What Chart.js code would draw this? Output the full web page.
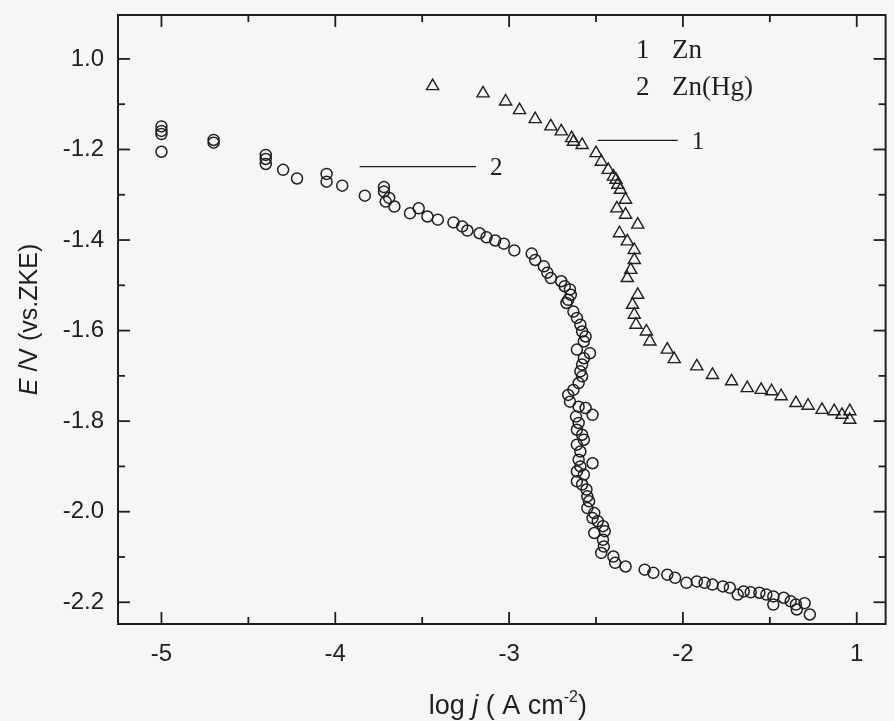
<!DOCTYPE html>
<html>
<head>
<meta charset="utf-8">
<script src="https://cdn.jsdelivr.net/npm/chart.js@4/dist/chart.umd.min.js"></script>
<style>
  html, body { margin: 0; padding: 0; background: #f5f6f6; }
  #wrap { width: 894px; height: 721px; position: relative; }
</style>
</head>
<body>
<div id="wrap"><canvas id="c"></canvas></div>
<script>
// Polarisation curve 1: Zn (triangles) — log j vs E
const znLogJ = [-3.44,-3.15,-3.02,-2.94,-2.85,-2.76,-2.70,-2.64,-2.63,-2.58,-2.50,-2.47,-2.43,-2.40,-2.385,-2.375,-2.36,-2.33,-2.38,-2.33,-2.26,-2.365,-2.32,-2.28,-2.28,-2.30,-2.32,-2.26,-2.29,-2.28,-2.27,-2.21,-2.19,-2.09,-2.05,-1.92,-1.83,-1.72,-1.63,-1.55,-1.49,-1.435,-1.35,-1.28,-1.20,-1.13,-1.085,-1.04,-1.04];
const znE    = [-1.060,-1.076,-1.094,-1.113,-1.133,-1.149,-1.160,-1.175,-1.183,-1.190,-1.208,-1.227,-1.245,-1.260,-1.267,-1.278,-1.289,-1.311,-1.330,-1.344,-1.366,-1.385,-1.403,-1.422,-1.444,-1.466,-1.484,-1.521,-1.543,-1.565,-1.587,-1.602,-1.624,-1.642,-1.663,-1.679,-1.698,-1.712,-1.727,-1.731,-1.734,-1.745,-1.760,-1.766,-1.775,-1.778,-1.786,-1.778,-1.797];

// Polarisation curve 2: Zn(Hg) (circles)
const znHgLogJ = [-5.00,-5.00,-5.00,-5.00,-4.70,-4.70,-4.40,-4.40,-4.40,-4.30,-4.22,-4.05,-4.05,-3.96,-3.83,-3.72,-3.72,-3.69,-3.71,-3.66,-3.57,-3.52,-3.47,-3.41,-3.32,-3.27,-3.24,-3.17,-3.13,-3.08,-3.03,-2.97,-2.87,-2.85,-2.80,-2.78,-2.76,-2.70,-2.68,-2.65,-2.645,-2.66,
  -2.67,-2.63,-2.61,-2.59,-2.58,-2.56,-2.57,-2.61,-2.535,-2.57,-2.58,-2.59,-2.58,-2.60,-2.63,-2.66,-2.65,-2.60,-2.56,-2.52,-2.615,-2.60,-2.61,-2.58,-2.57,-2.61,-2.59,-2.60,-2.52,-2.59,-2.61,-2.57,-2.61,-2.58,-2.555,-2.55,-2.54,-2.55,-2.51,-2.52,-2.49,-2.46,-2.51,-2.45,-2.46,-2.455,-2.47,-2.40,-2.39,-2.33,
  -2.22,-2.17,-2.09,-2.045,-1.98,-1.92,-1.875,-1.83,-1.77,-1.73,-1.685,-1.65,-1.61,-1.56,-1.52,-1.48,-1.48,-1.42,-1.38,-1.35,-1.345,-1.30,-1.27];
const znHgE = [-1.149,-1.159,-1.166,-1.205,-1.179,-1.185,-1.212,-1.221,-1.232,-1.245,-1.264,-1.254,-1.271,-1.280,-1.302,-1.283,-1.293,-1.307,-1.315,-1.326,-1.341,-1.330,-1.348,-1.355,-1.361,-1.370,-1.379,-1.385,-1.394,-1.401,-1.408,-1.423,-1.430,-1.444,-1.458,-1.472,-1.484,-1.491,-1.502,-1.509,-1.521,-1.532,
  -1.539,-1.558,-1.572,-1.587,-1.602,-1.613,-1.624,-1.642,-1.650,-1.661,-1.675,-1.690,-1.701,-1.716,-1.731,-1.742,-1.757,-1.768,-1.771,-1.786,-1.790,-1.804,-1.819,-1.830,-1.841,-1.852,-1.867,-1.885,-1.893,-1.900,-1.911,-1.918,-1.933,-1.940,-1.951,-1.966,-1.977,-1.992,-2.003,-2.014,-2.021,-2.032,-2.047,-2.043,-2.062,-2.077,-2.091,-2.099,-2.113,-2.121,
  -2.128,-2.135,-2.139,-2.146,-2.157,-2.154,-2.157,-2.161,-2.165,-2.168,-2.183,-2.176,-2.178,-2.179,-2.183,-2.187,-2.205,-2.190,-2.198,-2.205,-2.216,-2.202,-2.227];

// Axis ticks and their printed labels
const xTickValues = [-5, -4, -3, -2, -1];
const xTickLabels = ['-5', '-4', '-3', '-2', '1'];
const xMinorValues = [-4.5, -3.5, -2.5, -1.5];
const yTickValues = [-1.0, -1.2, -1.4, -1.6, -1.8, -2.0, -2.2];
const yTickLabels = ['1.0', '-1.2', '-1.4', '-1.6', '-1.8', '-2.0', '-2.2'];
const yMinorValues = [-1.1, -1.3, -1.5, -1.7, -1.9, -2.1];

// Legend entries and curve call-outs (leader line from x0 to x1 at level e)
const legendNumbers = ['1', '2'];
const legendNames = ['Zn', 'Zn(Hg)'];
const callouts = [
  { label: '1', x0: -2.49, x1: -2.03, e: -1.180 },
  { label: '2', x0: -3.86, x1: -3.19, e: -1.238 }
];

const INK = '#1f1f1f';
const SANS = '"Liberation Sans", Arial, sans-serif';
const SERIF = '"Liberation Serif", "Times New Roman", serif';

function toPoints(xs, ys) { return xs.map((v, i) => ({ x: v, y: ys[i] })); }

function richText(ctx, parts, x, y, align) {
  let total = 0;
  parts.forEach(p => { ctx.font = (p.style || '') + ' ' + p.size + 'px ' + SANS; p.w = ctx.measureText(p.t).width; total += p.w; });
  let cx = align === 'center' ? x - total / 2 : x;
  parts.forEach(p => {
    ctx.font = (p.style || '') + ' ' + p.size + 'px ' + SANS;
    ctx.fillText(p.t, cx, y + (p.dy || 0));
    cx += p.w;
  });
}

function noLabelPadding(s) {
  s.paddingTop = 0; s.paddingBottom = 0; s.paddingLeft = 0; s.paddingRight = 0;
}

const decor = {
  id: 'decor',
  beforeDraw(chart) {
    const ctx = chart.ctx;
    ctx.save();
    ctx.fillStyle = '#f5f6f6';
    ctx.fillRect(0, 0, chart.width, chart.height);
    ctx.restore();
  },
  afterDraw(chart) {
    const { ctx, chartArea: a, scales: { x, y } } = chart;
    ctx.save();
    ctx.strokeStyle = INK;
    ctx.fillStyle = INK;
    ctx.lineWidth = 2;
    ctx.strokeRect(a.left, a.top, a.right - a.left, a.bottom - a.top);

    const seg = (x1, y1, x2, y2) => { ctx.beginPath(); ctx.moveTo(x1, y1); ctx.lineTo(x2, y2); ctx.stroke(); };
    ctx.lineWidth = 1.8;
    const MAJ = 12, MIN = 7;
    xTickValues.forEach(v => { const p = x.getPixelForValue(v); seg(p, a.bottom, p, a.bottom - MAJ); seg(p, a.top, p, a.top + MAJ); });
    xMinorValues.forEach(v => { const p = x.getPixelForValue(v); seg(p, a.bottom, p, a.bottom - MIN); seg(p, a.top, p, a.top + MIN); });
    yTickValues.forEach(v => { const p = y.getPixelForValue(v); seg(a.left, p, a.left + MAJ, p); seg(a.right, p, a.right - MAJ, p); });
    yMinorValues.forEach(v => { const p = y.getPixelForValue(v); seg(a.left, p, a.left + MIN, p); seg(a.right, p, a.right - MIN, p); });

    // call-out lines with curve numbers
    ctx.lineWidth = 1.3;
    ctx.font = '25px ' + SERIF;
    ctx.textBaseline = 'middle';
    ctx.textAlign = 'left';
    callouts.forEach(c => {
      const py = y.getPixelForValue(c.e);
      const p0 = x.getPixelForValue(c.x0), p1 = x.getPixelForValue(c.x1);
      seg(p0, py, p1, py);
      ctx.fillText(c.label, p1 + 14, py + 2);
    });

    // legend text in the upper right
    ctx.textBaseline = 'alphabetic';
    ctx.font = '27px ' + SERIF;
    legendNumbers.forEach((n, i) => {
      const by = a.top + 43 + i * 37;
      ctx.fillText(n, a.left + 518, by);
      ctx.fillText(legendNames[i], a.left + 554, by);
    });

    // axis titles
    ctx.textAlign = 'left';
    ctx.textBaseline = 'alphabetic';
    richText(ctx, [
      { t: 'log ', size: 27 },
      { t: 'j', style: 'italic', size: 27 },
      { t: ' ( A cm', size: 27 },
      { t: '-2', size: 16, dy: -12 },
      { t: ')', size: 27 }
    ], (a.left + a.right) / 2 + 6, 714, 'center');

    ctx.save();
    ctx.translate(37, (a.top + a.bottom) / 2);
    ctx.rotate(-Math.PI / 2);
    richText(ctx, [
      { t: 'E', style: 'italic', size: 25 },
      { t: ' /V (vs.ZKE)', size: 25 }
    ], 0, 0, 'center');
    ctx.restore();

    ctx.restore();
  }
};

new Chart(document.getElementById('c'), {
  type: 'scatter',
  data: {
    datasets: [
      {
        label: 'Zn',
        data: toPoints(znLogJ, znE),
        pointStyle: 'triangle',
        pointRadius: 7,
        pointBorderWidth: 1.4,
        borderColor: INK,
        backgroundColor: 'rgba(0,0,0,0)',
        showLine: false
      },
      {
        label: 'Zn(Hg)',
        data: toPoints(znHgLogJ, znHgE),
        pointStyle: 'circle',
        pointRadius: 5.5,
        pointBorderWidth: 1.5,
        borderColor: INK,
        backgroundColor: 'rgba(0,0,0,0)',
        showLine: false
      }
    ]
  },
  options: {
    responsive: true,
    maintainAspectRatio: false,
    animation: false,
    layout: { padding: { left: 0, top: 15, right: 3, bottom: 0 } },
    plugins: { legend: { display: false }, tooltip: { enabled: false } },
    scales: {
      x: {
        type: 'linear',
        min: -5.25,
        max: -0.834,
        grid: { display: false, drawTicks: false },
        border: { display: false },
        afterFit(s) { s.height = 97; noLabelPadding(s); },
        afterBuildTicks(s) { s.ticks = xTickValues.map(v => ({ value: v })); },
        ticks: {
          padding: 16,
          color: INK,
          font: { family: SANS, size: 24 },
          callback: (v) => xTickLabels[xTickValues.indexOf(v)]
        }
      },
      y: {
        type: 'linear',
        min: -2.248,
        max: -0.903,
        grid: { display: false, drawTicks: false },
        border: { display: false },
        afterFit(s) { s.width = 118; noLabelPadding(s); },
        afterBuildTicks(s) { s.ticks = yTickValues.map(v => ({ value: v })); },
        ticks: {
          padding: 14,
          color: INK,
          font: { family: SANS, size: 24 },
          callback: (v) => {
            const i = yTickValues.findIndex(t => Math.abs(t - v) < 1e-6);
            return i >= 0 ? yTickLabels[i] : '';
          }
        }
      }
    }
  },
  plugins: [decor]
});
</script>
</body>
</html>
